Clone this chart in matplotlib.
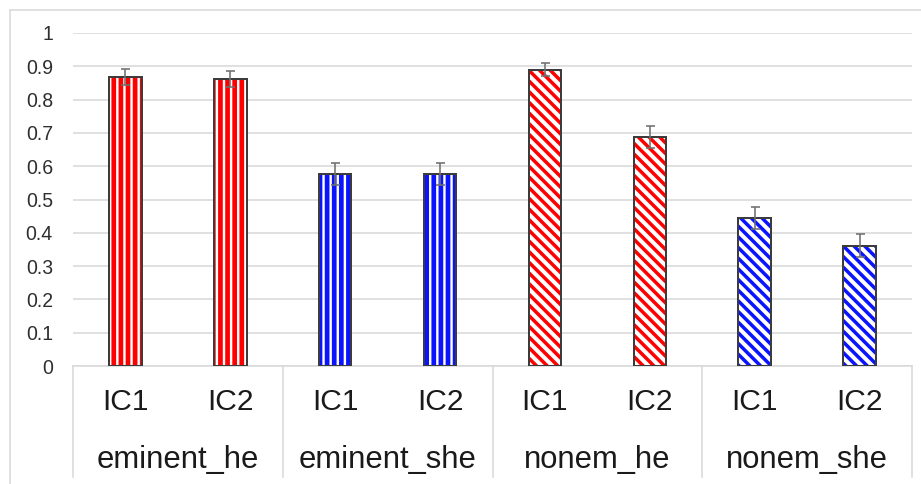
import matplotlib
matplotlib.use("Agg")
import matplotlib.pyplot as plt
from matplotlib.lines import Line2D

# ---- data ----
groups = ["eminent_he", "eminent_she", "nonem_he", "nonem_she"]
conditions = ["IC1", "IC2"]
values = [0.868, 0.862, 0.576, 0.576, 0.890, 0.688, 0.445, 0.361]
errors = [0.024, 0.024, 0.033, 0.033, 0.020, 0.034, 0.033, 0.035]
ytick_vals = [0, 0.1, 0.2, 0.3, 0.4, 0.5, 0.6, 0.7, 0.8, 0.9, 1]
ytick_labels = ["0", "0.1", "0.2", "0.3", "0.4", "0.5", "0.6", "0.7", "0.8", "0.9", "1"]

DPI = 128
W, H = 921, 484
def px2pt(p):
    return p * 72.0 / DPI

plt.rcParams['font.family'] = ['Liberation Sans', 'DejaVu Sans']
plt.rcParams['hatch.linewidth'] = px2pt(3.5)

fig = plt.figure(figsize=(W / DPI, H / DPI), dpi=DPI)
fig.patch.set_facecolor('white')

left, right, bottom_px, top_px = 73, 912, 366, 33
ax = fig.add_axes([left / W, (H - bottom_px) / H, (right - left) / W, (bottom_px - top_px) / H])

n = len(values)
xs = list(range(n))
bw = 0.31
styles = [
    # (face, hatch color, hatch, hatch line px)
    ('#ff0000', 'white', '|||', 2.4),
    ('#ff0000', 'white', '|||', 2.4),
    ('#0a14ff', 'white', '|||', 2.4),
    ('#0a14ff', 'white', '|||', 2.4),
    ('white', '#ff0000', '\\\\\\\\', 3.5),
    ('white', '#ff0000', '\\\\\\\\', 3.5),
    ('white', '#0a14ff', '\\\\\\\\', 3.5),
    ('white', '#0a14ff', '\\\\\\\\', 3.5),
]
for x, v, (fc, hc, h, hlw) in zip(xs, values, styles):
    with plt.rc_context({'hatch.linewidth': px2pt(hlw)}):
        bars = ax.bar(x, v, width=bw, color=fc, edgecolor=hc, hatch=h, linewidth=0, zorder=2)
    for b in bars:
        if hasattr(b, 'set_hatch_linewidth'):
            b.set_hatch_linewidth(px2pt(hlw))
ax.bar(xs, values, width=bw, facecolor='none', edgecolor='#3c3c3c',
       linewidth=px2pt(2.0), zorder=3)
ax.errorbar(xs, values, yerr=errors, fmt='none', ecolor='#707070',
            elinewidth=px2pt(1.6), capsize=px2pt(4.5), capthick=px2pt(1.6),
            zorder=4, clip_on=False)

ax.set_xlim(-0.5, n - 0.5)
ax.set_ylim(0, 1)
ax.set_yticks(ytick_vals)
ax.set_yticklabels(ytick_labels)
ax.tick_params(axis='y', length=0, pad=px2pt(20), labelsize=px2pt(19.5), labelcolor='#2e2e2e')
ax.set_xticks([])
for s in ['left', 'right', 'top']:
    ax.spines[s].set_visible(False)
ax.spines['bottom'].set_color('#d9d9d9')
ax.spines['bottom'].set_linewidth(px2pt(1.6))
ax.yaxis.grid(True, color='#d9d9d9', linewidth=px2pt(1.6), zorder=0)
ax.set_axisbelow(True)

# category axis (two-level labels)
trans = ax.get_xaxis_transform()
ax_h = bottom_px - top_px
y_sep_end = -(477 - bottom_px) / ax_h
y_ic = -(401.5 - bottom_px) / ax_h
y_grp = -(460 - bottom_px) / ax_h
for k in range(len(groups) + 1):
    xb = -0.5 + 2 * k
    ax.add_line(Line2D([xb, xb], [0, y_sep_end], transform=trans, color='#d9d9d9',
                       linewidth=px2pt(1.6), clip_on=False))
for i, x in enumerate(xs):
    ax.text(x, y_ic, conditions[i % 2], transform=trans, ha='center', va='center',
            fontsize=px2pt(30), color='#1a1a1a')
for g, name in enumerate(groups):
    ax.text(2 * g + 0.5, y_grp, name, transform=trans, ha='center', va='center',
            fontsize=px2pt(31), color='#1a1a1a')

# outer chart border
fig.add_artist(Line2D([10 / W, 1.0], [1 - 10 / H, 1 - 10 / H], transform=fig.transFigure,
                      color='#d9d9d9', linewidth=px2pt(1.6)))
fig.add_artist(Line2D([10 / W, 10 / W], [0, 1 - 10 / H], transform=fig.transFigure,
                      color='#d9d9d9', linewidth=px2pt(1.6)))

fig.savefig('out.png', dpi=DPI, facecolor='white')
